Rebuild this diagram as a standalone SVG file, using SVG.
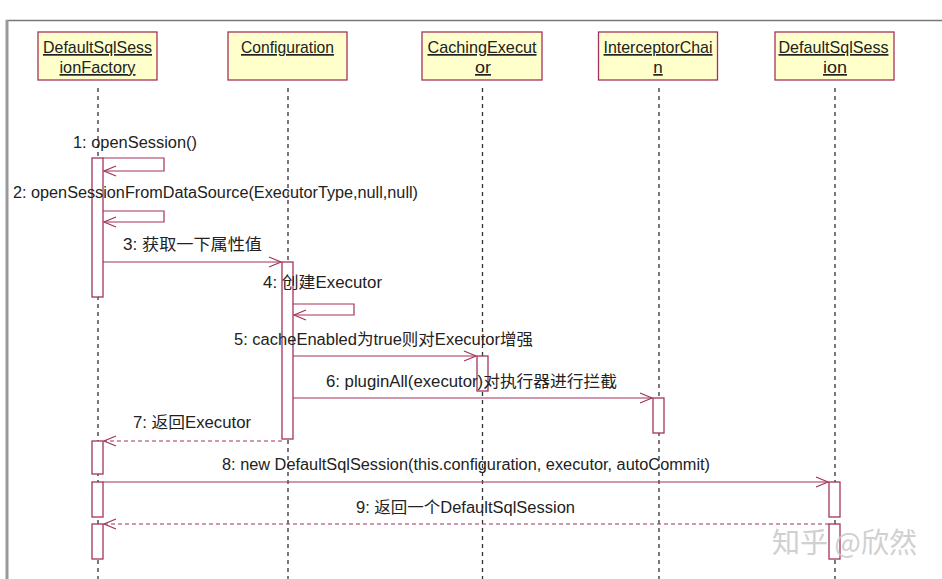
<svg xmlns="http://www.w3.org/2000/svg" width="942" height="579" viewBox="0 0 942 579">
<defs>
<style>
.box{fill:#FFFFCC;stroke:#A3335C;stroke-width:1.3}
.hd{font-family:"Liberation Sans",Arial,sans-serif;font-size:17px;fill:#222;text-decoration:underline;text-anchor:middle}
.life{stroke:#333;stroke-width:1.3;stroke-dasharray:4 4;fill:none}
.act{fill:#fff;stroke:#A3335C;stroke-width:1.3}
.msg{stroke:#A3335C;stroke-width:1.2;fill:none}
.ret{stroke:#A3335C;stroke-width:1.2;fill:none;stroke-dasharray:4 3}
.lbl{font-family:"Liberation Sans",Arial,"Noto Sans CJK SC",sans-serif;font-size:16px;fill:#222}
</style>
<marker id="open" markerWidth="14" markerHeight="12" refX="13" refY="6" orient="auto" markerUnits="userSpaceOnUse">
<path d="M1,1 L13,6 L1,11" fill="none" stroke="#A3335C" stroke-width="1.2"/>
</marker>
</defs>
<rect x="0" y="0" width="942" height="579" fill="#fff"/>
<line x1="6" y1="20.5" x2="942" y2="20.5" stroke="#777" stroke-width="1.5"/>
<line x1="7" y1="20" x2="7" y2="579" stroke="#999" stroke-width="3"/>

<g id="lifelines">
<line class="life" x1="98" y1="88" x2="98" y2="579"/>
<line class="life" x1="288" y1="88" x2="288" y2="579"/>
<line class="life" x1="482.5" y1="88" x2="482.5" y2="579"/>
<line class="life" x1="659" y1="88" x2="659" y2="579"/>
<line class="life" x1="835" y1="88" x2="835" y2="579"/>
</g>

<g id="n1">
<rect class="box" x="38" y="32" width="119" height="48"/>
<text class="hd" x="97.5" y="53" textLength="109" lengthAdjust="spacingAndGlyphs">DefaultSqlSess</text>
<text class="hd" x="97.5" y="73" textLength="76" lengthAdjust="spacingAndGlyphs">ionFactory</text>
</g>
<g id="n2">
<rect class="box" x="228" y="32" width="119" height="48"/>
<text class="hd" x="287.5" y="53" textLength="93" lengthAdjust="spacingAndGlyphs">Configuration</text>
</g>
<g id="n3">
<rect class="box" x="422" y="32" width="120" height="48"/>
<text class="hd" x="482" y="53" textLength="109" lengthAdjust="spacingAndGlyphs">CachingExecut</text>
<text class="hd" x="483" y="73" textLength="16" lengthAdjust="spacingAndGlyphs">or</text>
</g>
<g id="n4">
<rect class="box" x="598.5" y="32" width="119" height="48"/>
<text class="hd" x="658" y="53" textLength="109" lengthAdjust="spacingAndGlyphs">InterceptorChai</text>
<text class="hd" x="658" y="73">n</text>
</g>
<g id="n5">
<rect class="box" x="775" y="32" width="119" height="48"/>
<text class="hd" x="833.5" y="53" textLength="110" lengthAdjust="spacingAndGlyphs">DefaultSqlSess</text>
<text class="hd" x="835" y="73" textLength="24" lengthAdjust="spacingAndGlyphs">ion</text>
</g>

<g id="activations">
<rect class="act" x="92" y="158" width="11" height="139"/>
<rect class="act" x="282" y="262" width="11" height="177"/>
<rect class="act" x="477" y="356" width="11" height="35"/>
<rect class="act" x="653" y="398" width="11" height="35"/>
<rect class="act" x="92" y="441" width="11" height="33"/>
<rect class="act" x="92" y="482" width="11" height="35"/>
<rect class="act" x="92" y="524" width="11" height="35"/>
<rect class="act" x="829" y="482" width="11" height="35"/>
<rect class="act" x="829" y="524" width="11" height="35"/>
</g>

<g id="connectors">
<polyline class="msg" points="103,158 164,158 164,171 104,171" marker-end="url(#open)"/>
<polyline class="msg" points="103,211 164,211 164,222 104,222" marker-end="url(#open)"/>
<line class="msg" x1="103" y1="262" x2="281" y2="262" marker-end="url(#open)"/>
<polyline class="msg" points="293,304 354,304 354,315 294,315" marker-end="url(#open)"/>
<line class="msg" x1="293" y1="356" x2="476" y2="356" marker-end="url(#open)"/>
<line class="msg" x1="293" y1="398" x2="652" y2="398" marker-end="url(#open)"/>
<line class="ret" x1="282" y1="441" x2="104" y2="441" marker-end="url(#open)"/>
<line class="msg" x1="103" y1="482" x2="828" y2="482" marker-end="url(#open)"/>
<line class="ret" x1="829" y1="524" x2="104" y2="524" marker-end="url(#open)"/>
</g>

<g id="labels">
<text class="lbl" x="73" y="148" textLength="124" lengthAdjust="spacingAndGlyphs">1: openSession()</text>
<text class="lbl" x="13" y="198" textLength="405" lengthAdjust="spacingAndGlyphs">2: openSessionFromDataSource(ExecutorType,null,null)</text>
<text class="lbl" x="123" y="250" textLength="139" lengthAdjust="spacingAndGlyphs">3: 获取一下属性值</text>
<text class="lbl" x="263" y="288" textLength="119" lengthAdjust="spacingAndGlyphs">4: 创建Executor</text>
<text class="lbl" x="234" y="345" textLength="299" lengthAdjust="spacingAndGlyphs">5: cacheEnabled为true则对Executor增强</text>
<text class="lbl" x="326" y="387" textLength="291" lengthAdjust="spacingAndGlyphs">6: pluginAll(executor)对执行器进行拦截</text>
<text class="lbl" x="133" y="428" textLength="118" lengthAdjust="spacingAndGlyphs">7: 返回Executor</text>
<text class="lbl" x="222" y="470" textLength="488" lengthAdjust="spacingAndGlyphs">8: new DefaultSqlSession(this.configuration, executor, autoCommit)</text>
<text class="lbl" x="356" y="513" textLength="219" lengthAdjust="spacingAndGlyphs">9: 返回一个DefaultSqlSession</text>
</g>

<text x="772" y="553" font-family="'Noto Sans CJK SC',sans-serif" font-size="28" fill="#c8c8c8" opacity="0.85" textLength="145" lengthAdjust="spacingAndGlyphs">知乎 @欣然</text>
</svg>
